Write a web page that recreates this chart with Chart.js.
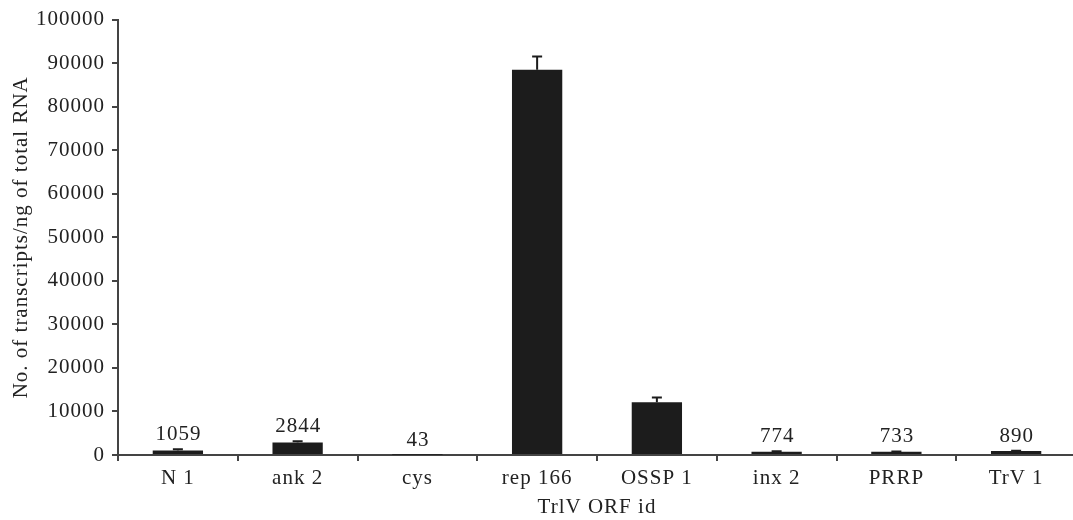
<!DOCTYPE html>
<html>
<head>
<meta charset="utf-8">
<script src="https://cdn.jsdelivr.net/npm/chart.js@4.4.0/dist/chart.umd.min.js"></script>
<style>
html,body{margin:0;padding:0;background:#fff;overflow:hidden;}
#wrap{width:1076px;height:520px;}
</style>
</head>
<body>
<div id="wrap"><canvas id="c" width="1076" height="520"></canvas></div>
<script>
const categories = ['N 1','ank 2','cys','rep 166','OSSP 1','inx 2','PRRP','TrV 1'];
const values = [1059, 2844, 43, 88500, 12100, 774, 733, 890];
const errors = [250, 300, 0, 3000, 1100, 80, 80, 80];
const valueLabels = ['1059','2844','43','','','774','733','890'];
const yTicks = [0,10000,20000,30000,40000,50000,60000,70000,80000,90000,100000];

const FONT = '"Liberation Serif", "Times New Roman", serif';
const TXT = '#222';
const FS = 21;

const spacing = {
  id: 'spacing',
  beforeDraw(chart) { chart.ctx.letterSpacing = '1px'; }
};

const errorBars = {
  id: 'errorBars',
  afterDatasetsDraw(chart) {
    const ctx = chart.ctx;
    const meta = chart.getDatasetMeta(0);
    const y = chart.scales.y;
    ctx.save();
    ctx.strokeStyle = '#1c1c1c';
    ctx.lineWidth = 2;
    meta.data.forEach((bar, i) => {
      const e = errors[i];
      const top = y.getPixelForValue(values[i] + e);
      if (e > 0) {
        ctx.beginPath();
        ctx.moveTo(bar.x, bar.y);
        ctx.lineTo(bar.x, top);
        ctx.moveTo(bar.x - 5, top);
        ctx.lineTo(bar.x + 5, top);
        ctx.stroke();
      }
      if (valueLabels[i]) {
        ctx.fillStyle = TXT;
        ctx.font = FS + 'px ' + FONT;
        ctx.letterSpacing = '1px';
        ctx.textAlign = 'center';
        ctx.textBaseline = 'bottom';
        ctx.fillText(valueLabels[i], bar.x + 0.5, Math.min(top, bar.y) - 4);
      }
    });
    ctx.restore();
  }
};

new Chart(document.getElementById('c'), {
  type: 'bar',
  data: {
    labels: categories,
    datasets: [{
      data: values,
      backgroundColor: '#1c1c1c',
      borderWidth: 0,
      barPercentage: 0.42,
      categoryPercentage: 1.0
    }]
  },
  options: {
    responsive: false,
    animation: false,
    devicePixelRatio: 1,
    layout: { padding: { top: 10, right: 0, left: 0, bottom: 0 } },
    plugins: { legend: { display: false }, tooltip: { enabled: false } },
    scales: {
      x: {
        offset: true,
        border: { color: '#444', width: 2 },
        grid: { display: true, offset: true, drawOnChartArea: false, drawTicks: true, tickLength: 6, color: '#444', lineWidth: 2 },
        ticks: { color: TXT, font: { family: FONT, size: FS }, padding: 5, maxRotation: 0 },
        title: { display: true, text: 'TrlV ORF id', color: TXT, font: { family: FONT, size: FS }, padding: { top: 6, bottom: 0 } },
        afterFit(scale) { scale.height = 65; }
      },
      y: {
        min: 0, max: 100000,
        border: { color: '#444', width: 2 },
        grid: { display: true, drawOnChartArea: false, drawTicks: true, tickLength: 6, color: '#444', lineWidth: 2 },
        afterBuildTicks(scale) { scale.ticks = yTicks.map(v => ({ value: v })); },
        ticks: { color: TXT, font: { family: FONT, size: FS }, padding: 7, callback: v => String(v) },
        title: { display: true, text: 'No. of transcripts/ng of total RNA', color: TXT, font: { family: FONT, size: FS }, padding: { top: 9, bottom: 0 } },
        afterFit(scale) { scale.width = 118; }
      }
    }
  },
  plugins: [spacing, errorBars]
});
</script>
</body>
</html>
